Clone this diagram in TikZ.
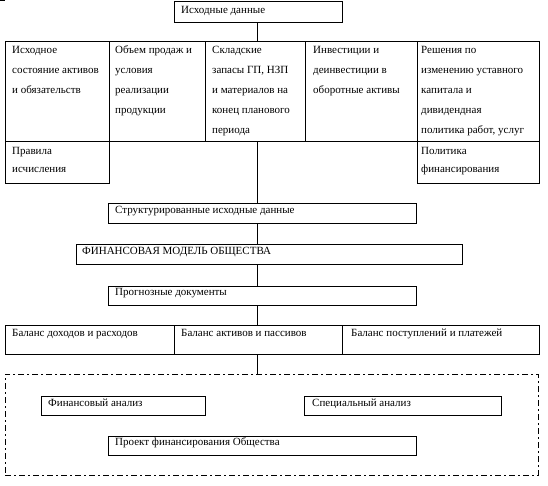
\documentclass[tikz,border=0pt]{standalone}
\usepackage{fontspec}
\setmainfont{Liberation Serif}
\newcommand\bx[6][]{\node[box,#1,minimum width={#4pt-#2pt},minimum height={#5pt-#3pt}] (#6) at (#2,#3) {};}
\begin{document}
\begin{tikzpicture}[x=1pt,y=-1pt,
  box/.style={draw,line width=1pt,inner sep=0pt,outer sep=0pt,anchor=north west},
  txt/.style={anchor=base west,inner sep=0pt,font=\fontsize{11}{20}\selectfont},
  txtb/.style={anchor=base west,inner sep=0pt,font=\fontsize{11}{18}\selectfont},
  ln/.style={line width=1pt},
  dashbox/.style={dash pattern=on 6pt off 3pt on 2pt off 3pt}]
\fill[white] (0,0) rectangle (548,486);
\useasboundingbox (0,0) rectangle (548,486);
\draw[ln] (0,1) -- (4,1) -- (4,0);
% top
\bx{174}{2}{342}{23}{top}
\node[txt] (topt) at (181,14) {Исходные данные};
% row of inputs
\bx{5}{42}{109}{142}{c1}
\bx{109}{42}{205}{142}{c2}
\bx{205}{42}{305}{142}{c3}
\bx{305}{42}{417}{142}{c4}
\bx{417}{42}{539}{142}{c5}
\node[txt] (c1t) at (12,54) {\parbox[t]{4cm}{\raggedright Исходное\\состояние активов\\и обязательств}};
\node[txt] (c2t) at (115,54) {\parbox[t]{4cm}{\raggedright Объем продаж и\\условия\\реализации\\продукции}};
\node[txt] (c3t) at (212,54) {\parbox[t]{4cm}{\raggedright Складские\\запасы ГП, НЗП\\и материалов на\\конец планового\\периода}};
\node[txt] (c4t) at (313,54) {\parbox[t]{4cm}{\raggedright Инвестиции и\\деинвестиции в\\оборотные активы}};
\node[txt] (c5t) at (421,54) {\parbox[t]{4cm}{\raggedright Решения по\\изменению уставного\\капитала и\\дивидендная\\политика работ, услуг}};
% lower small boxes
\bx{5}{142}{109}{184}{r1}
\bx{417}{142}{539}{184}{r2}
\node[txtb] (r1t) at (12,155) {\parbox[t]{4cm}{\raggedright Правила\\исчисления}};
\node[txtb] (r2t) at (421,155) {\parbox[t]{4cm}{\raggedright Политика\\финансирования}};
% chain
\bx{108}{204}{416}{224}{sd}
\node[txt] (sdt) at (115,214) {Структурированные исходные данные};
\bx{76}{244}{462}{264}{fm}
\node[txt] (fmt) at (82,254) {ФИНАНСОВАЯ МОДЕЛЬ ОБЩЕСТВА};
\bx{108}{286}{416}{305}{pd}
\node[txt] (pdt) at (115,295) {Прогнозные документы};
% balances
\bx{5}{325}{174}{354}{b1}
\bx{174}{325}{342}{354}{b2}
\bx{342}{325}{539}{354}{b3}
\node[txt] (b1t) at (12,336) {Баланс доходов и расходов};
\node[txt] (b2t) at (181,336) {Баланс активов и пассивов};
\node[txt] (b3t) at (351,336) {Баланс поступлений и платежей};
% analysis group
\bx[dashbox]{5}{374}{538}{475}{an}
\bx{41}{396}{205}{415}{fa}
\node[txt] (fat) at (48,406) {Финансовый анализ};
\bx{304}{396}{501}{415}{sa}
\node[txt] (sat) at (312,406) {Специальный анализ};
\bx{108}{436}{416}{455}{pf}
\node[txt] (pft) at (115,445) {Проект финансирования Общества};
% connectors
\coordinate (sp) at (257,0);
\draw[ln] (sp |- top.south) -- (sp |- c3.north);
\draw[ln] (sp |- c3.south) -- (sp |- sd.north);
\draw[ln] (sp |- sd.south) -- (sp |- fm.north);
\draw[ln] (sp |- fm.south) -- (sp |- pd.north);
\draw[ln] (sp |- pd.south) -- (sp |- b2.north);
\draw[ln] (sp |- b2.south) -- (sp |- an.north);
\end{tikzpicture}
\end{document}
